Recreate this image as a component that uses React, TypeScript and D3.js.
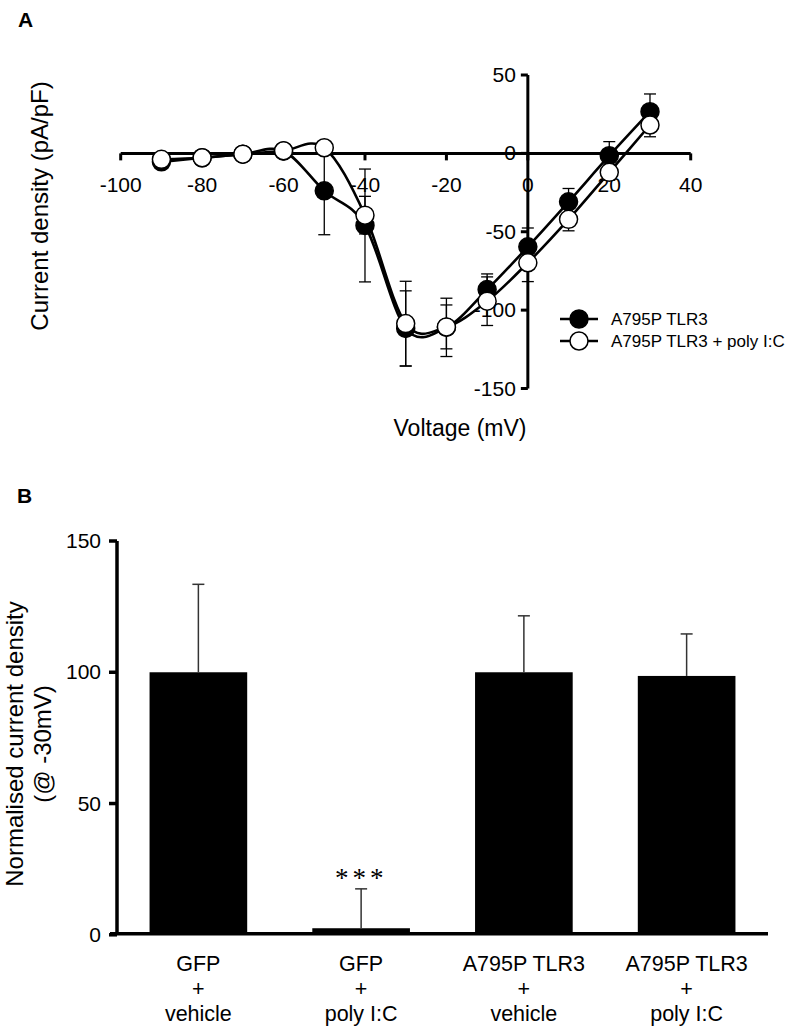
import React from "react";
import * as d3 from "d3";

// ---------- Panel A data ----------
const voltages = [-90, -80, -70, -60, -50, -40, -30, -20, -10, 0, 10, 20, 30];
const tlr3 = [-5.4, -2.8, -0.5, 1.5, -23.9, -46, -111.7, -111, -86.9, -59.6, -30.9, -1.5, 26.6];
const tlr3Err = [1, 1, 1, 1, 28, 36, 24, 18.6, 10, 12, 8.5, 9, 11.3];
const tlr3Poly = [-3.8, -2.8, -0.5, 1.7, 3.6, -39.4, -108.6, -110.7, -94.3, -69.8, -42.1, -12.1, 18.1];
const tlr3PolyErr = [1, 1, 1, 1, 1, 12, 27, 14, 15.5, 12, 7.3, 5, 7.5];
const xTicksA = [-100, -80, -60, -40, -20, 0, 20, 40];
const yTicksA = [-150, -100, -50, 0, 50];
const legendLabels = ["A795P TLR3", "A795P TLR3 + poly I:C"];

// ---------- Panel B data ----------
const categories = [
  ["GFP", "+", "vehicle"],
  ["GFP", "+", "poly I:C"],
  ["A795P TLR3", "+", "vehicle"],
  ["A795P TLR3", "+", "poly I:C"],
];
const barValues = [100, 2.5, 100, 98.6];
const barErrors = [33.5, 15, 21.5, 16];
const yTicksB = [0, 50, 100, 150];

const FONT = "'Liberation Sans', Arial, Helvetica, sans-serif";

export default function App() {
  // Panel A scales
  const xA = d3.scaleLinear().domain([-100, 40]).range([120.7, 690.7]);
  const yA = d3.scaleLinear().domain([-150, 50]).range([388.5, 75]);
  const y0 = yA(0);
  const x0 = xA(0);
  const line = d3
    .line<number>()
    .x((_, i) => xA(voltages[i]))
    .y((d) => yA(d))
    .curve(d3.curveCardinal.tension(0));

  const series = [
    { vals: tlr3, errs: tlr3Err, fill: "#000" },
    { vals: tlr3Poly, errs: tlr3PolyErr, fill: "#fff" },
  ];

  // Panel B scales
  const labelsB = categories.map((c) => c.join(" "));
  const xB = d3.scaleBand<string>().domain(labelsB).range([117, 768]).paddingInner(0.4).paddingOuter(0.2);
  const yB = d3.scaleLinear().domain([0, 150]).range([934.8, 541]);

  return (
    <svg width={800} height={1031} style={{ position: "absolute", left: 0, top: 0, background: "#fff" }} fontFamily={FONT}>
      <rect width={800} height={1031} fill="#fff" />
      {/* ===== Panel A ===== */}
      <text x={18} y={27} fontSize={21} fontWeight="bold">A</text>
      {/* x axis */}
      <line x1={xA(-100)} x2={xA(40)} y1={y0} y2={y0} stroke="#000" strokeWidth={3} />
      {xTicksA.map((t) => (
        <g key={"xa" + t}>
          <line x1={xA(t)} x2={xA(t)} y1={y0} y2={y0 + 7} stroke="#000" strokeWidth={3} />
          <text x={xA(t)} y={y0 + 39} textAnchor="middle" fontSize={21}>{t}</text>
        </g>
      ))}
      {/* y axis */}
      <line x1={x0} x2={x0} y1={yA(50)} y2={yA(-150)} stroke="#000" strokeWidth={3} />
      {yTicksA.map((t) => (
        <g key={"ya" + t}>
          <line x1={x0 - 7} x2={x0} y1={yA(t)} y2={yA(t)} stroke="#000" strokeWidth={3} />
          <text x={x0 - 12} y={yA(t) + 7} textAnchor="end" fontSize={21}>{t}</text>
        </g>
      ))}
      {/* series */}
      {series.map((s, si) => (
        <g key={"s" + si}>
          {s.vals.map((v, i) => {
            const x = xA(voltages[i]);
            const yt = yA(v + s.errs[i]);
            const yb = yA(v - s.errs[i]);
            return (
              <g key={"e" + i}>
                <line x1={x} x2={x} y1={yt} y2={yb} stroke="#000" strokeWidth={1.3} />
                <line x1={x - 6} x2={x + 6} y1={yt} y2={yt} stroke="#000" strokeWidth={1.3} />
                <line x1={x - 6} x2={x + 6} y1={yb} y2={yb} stroke="#000" strokeWidth={1.3} />
              </g>
            );
          })}
          <path d={line(s.vals) || ""} fill="none" stroke="#000" strokeWidth={2.6} />
          {s.vals.map((v, i) => (
            <circle key={"m" + i} cx={xA(voltages[i])} cy={yA(v)} r={9} fill={s.fill} stroke="#000" strokeWidth={1.5} />
          ))}
        </g>
      ))}
      {/* legend */}
      {legendLabels.map((l, i) => {
        const ly = 319 + i * 22;
        return (
          <g key={"lg" + i}>
            <line x1={560} x2={598} y1={ly} y2={ly} stroke="#000" strokeWidth={2.6} />
            <circle cx={579} cy={ly} r={9} fill={series[i].fill} stroke="#000" strokeWidth={1.5} />
            <text x={611} y={ly + 6} fontSize={17}>{l}</text>
          </g>
        );
      })}
      <text transform="translate(48,206) rotate(-90)" textAnchor="middle" fontSize={24}>Current density (pA/pF)</text>
      <text x={460} y={436} textAnchor="middle" fontSize={23}>Voltage (mV)</text>

      {/* ===== Panel B ===== */}
      <text x={17} y={503} fontSize={21} fontWeight="bold">B</text>
      {categories.map((c, i) => {
        const key = labelsB[i];
        const bx = xB(key) as number;
        const bw = xB.bandwidth();
        const cx = bx + bw / 2;
        const top = yB(barValues[i]);
        const et = yB(barValues[i] + barErrors[i]);
        return (
          <g key={"b" + i}>
            <rect x={bx} y={top} width={bw} height={yB(0) - top} fill="#000" />
            <line x1={cx} x2={cx} y1={et} y2={top} stroke="#333" strokeWidth={1.5} />
            <line x1={cx - 6} x2={cx + 6} y1={et} y2={et} stroke="#333" strokeWidth={1.5} />
            {c.map((t, j) => (
              <text key={j} x={cx} y={971 + j * 25} textAnchor="middle" fontSize={21.5}>{t}</text>
            ))}
          </g>
        );
      })}
      <text x={(xB(labelsB[1]) as number) + xB.bandwidth() / 2} y={887} textAnchor="middle" fontSize={27} letterSpacing={4} fill="#000" fontFamily="'Liberation Serif', serif">***</text>
      {/* axes */}
      <line x1={117} x2={117} y1={yB(150)} y2={yB(0)} stroke="#000" strokeWidth={3.5} />
      <line x1={110} x2={768} y1={yB(0) - 1} y2={yB(0) - 1} stroke="#000" strokeWidth={3.5} />
      {yTicksB.map((t) => (
        <g key={"yb" + t}>
          <line x1={109} x2={117} y1={yB(t)} y2={yB(t)} stroke="#000" strokeWidth={3.5} />
          <text x={101} y={yB(t) + 7} textAnchor="end" fontSize={21}>{t}</text>
        </g>
      ))}
      <text transform="translate(23,744) rotate(-90)" textAnchor="middle" fontSize={24}>
        <tspan x={0} dy={0}>Normalised current density</tspan>
        <tspan x={0} dy={28}>(@ -30mV)</tspan>
      </text>
    </svg>
  );
}
